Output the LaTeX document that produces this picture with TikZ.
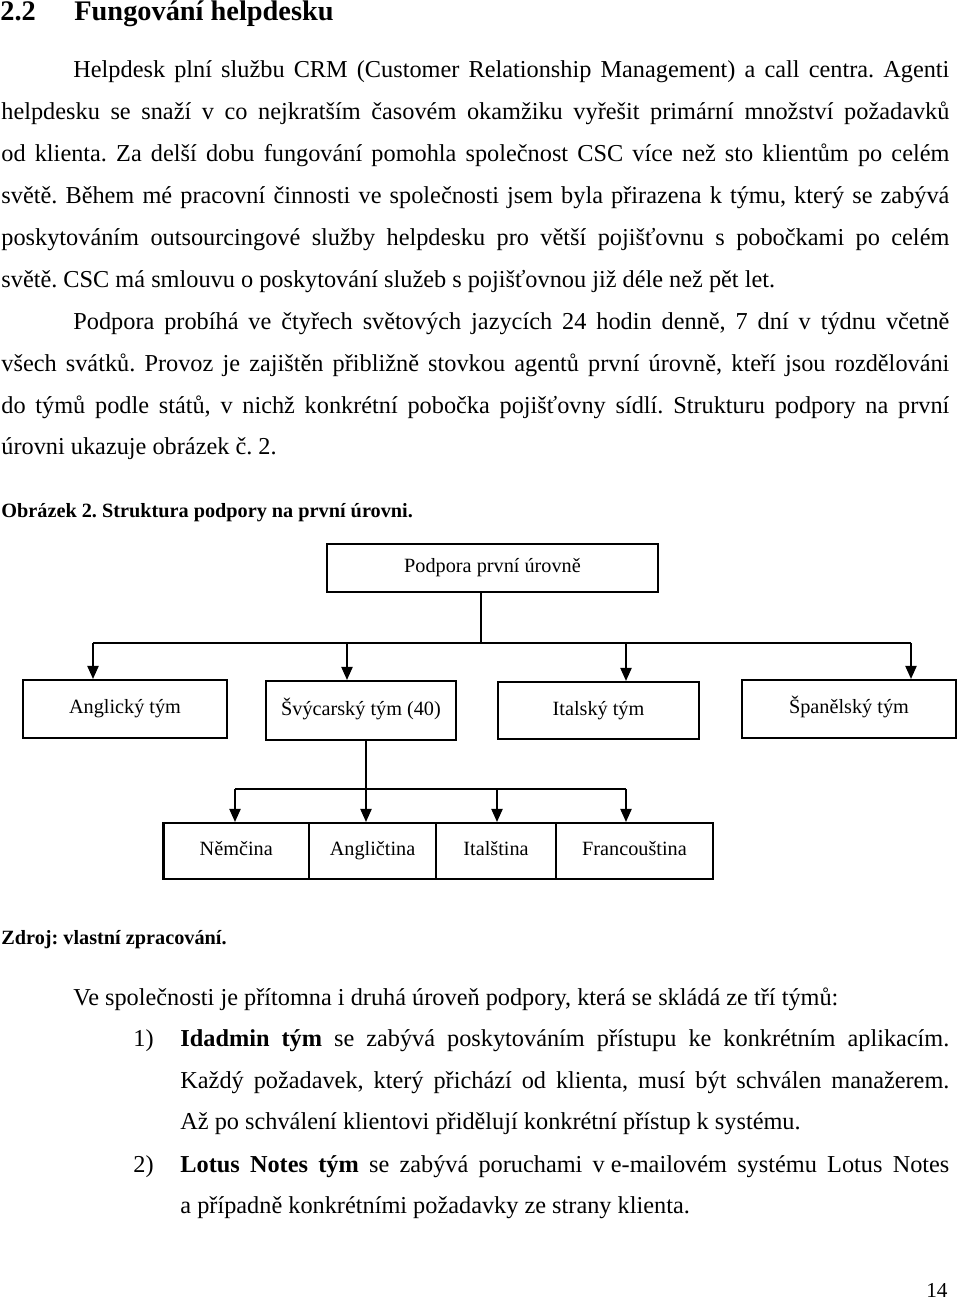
\documentclass[tikz,border=0pt]{standalone}
\usepackage{fontspec}
\setmainfont{Liberation Serif}
\usetikzlibrary{arrows.meta}
\frenchspacing
\newlength\pxu
\setlength\pxu{0.49383pt}
\newcommand\jl[2]{\hbox to #1\pxu{#2}}
\begin{document}
\begin{tikzpicture}[x=0.49383pt, y=-0.49383pt,
  body/.style={anchor=base west, inner sep=0pt, font=\fontsize{12}{14}\selectfont},
  head/.style={anchor=base west, inner sep=0pt, font=\fontsize{14}{16}\selectfont\bfseries},
  capt/.style={anchor=base west, inner sep=0pt, font=\fontsize{10}{12}\selectfont\bfseries},
  box/.style={draw, line width=1pt, inner sep=0pt, font=\fontsize{10}{12}\selectfont, text height=7pt, text depth=2.5pt},
  sz/.style 2 args={minimum width={#1*0.49383pt}, minimum height={#2*0.49383pt}},
  conn/.style={line width=1pt},
  arr/.style={conn, -{Triangle[length=6.5pt, width=5.5pt]}}]
\fill[white] (0,0) rectangle (960,1299);
\path[use as bounding box] (0,0) rectangle (960,1299);

% heading
\node[head] (h1) at (0,20) {2.2};
\node[head] (h2) at (74,20) {Fungování helpdesku};

% paragraph 1
\node[body] (p1) at (73,77) {\jl{876}{Helpdesk plní službu CRM (Customer Relationship Management) a call centra. Agenti}};
\node[body] (p2) at (1,119) {\jl{948}{helpdesku se snaží v co nejkratším časovém okamžiku vyřešit primární množství požadavků}};
\node[body] (p3) at (1,161) {\jl{948}{od klienta. Za delší dobu fungování pomohla společnost CSC více než sto klientům po celém}};
\node[body] (p4) at (1,203) {\jl{948}{světě. Během mé pracovní činnosti ve společnosti jsem byla přirazena k týmu, který se zabývá}};
\node[body] (p5) at (1,245) {\jl{948}{poskytováním outsourcingové služby helpdesku pro větší pojišťovnu s pobočkami po celém}};
\node[body] (p6) at (1,287) {světě. CSC má smlouvu o poskytování služeb s pojišťovnou již déle než pět let.};

% paragraph 2
\node[body] (p7) at (73,329) {\jl{876}{Podpora probíhá ve čtyřech světových jazycích 24 hodin denně, 7 dní v týdnu včetně}};
\node[body] (p8) at (1,371) {\jl{948}{všech svátků. Provoz je zajištěn přibližně stovkou agentů první úrovně, kteří jsou rozdělováni}};
\node[body] (p9) at (1,413) {\jl{948}{do týmů podle států, v nichž konkrétní pobočka pojišťovny sídlí. Strukturu podpory na první}};
\node[body] (p10) at (1,454) {úrovni ukazuje obrázek č. 2.};

% caption
\node[capt] (cap) at (1,517) {Obrázek 2. Struktura podpory na první úrovni.};

% diagram
\node[box, sz={331}{48}] (top) at (492.5,568) {Podpora první úrovně};
\node[box, sz={204}{58}] (ang) at (125,709) {Anglický tým};
\node[box, sz={190}{59}] (svy) at (361,710.5) {Švýcarský tým (40)};
\node[box, sz={201}{57}] (ita) at (598.5,710.5) {Italský tým};
\node[box, sz={214}{58}] (spa) at (849,709) {Španělský tým};

\node[box, sz={145.5}{56}] (nem) at (236.25,851) {Němčina};
\node[box, sz={127}{56}] (angl) at (372.5,851) {Angličtina};
\node[box, sz={120}{56}] (itl) at (496,851) {Italština};
\node[box, sz={157}{56}] (fra) at (634.5,851) {Francouština};

\coordinate (j1) at (481,643);
\coordinate (b1l) at (93,643);
\coordinate (b1a) at (347,643);
\coordinate (b1b) at (626,643);
\coordinate (b1r) at (911,643);
\draw[conn] (top.south -| j1) -- (j1);
\draw[conn] (b1l) -- (b1r);
\draw[arr] (b1l) -- (ang.north -| b1l);
\draw[arr] (b1a) -- (svy.north -| b1a);
\draw[arr] (b1b) -- (ita.north -| b1b);
\draw[arr] (b1r) -- (spa.north -| b1r);

\coordinate (j2) at (366,789);
\coordinate (b2l) at (235,789);
\coordinate (b2b) at (497,789);
\coordinate (b2r) at (626,789);
\draw[conn] (svy.south -| j2) -- (j2);
\draw[conn] (b2l) -- (b2r);
\draw[arr] (b2l) -- (nem.north -| b2l);
\draw[arr] (j2) -- (angl.north -| j2);
\draw[arr] (b2b) -- (itl.north -| b2b);
\draw[arr] (b2r) -- (fra.north -| b2r);

% source
\node[capt] (src) at (1,944) {Zdroj: vlastní zpracování.};

% second-level text
\node[body] (q0) at (73,1005) {Ve společnosti je přítomna i druhá úroveň podpory, která se skládá ze tří týmů:};
\node[body] (n1) at (133,1046) {1)};
\node[body] (q1) at (180,1046) {\jl{769}{\textbf{Idadmin tým} se zabývá poskytováním přístupu ke konkrétním aplikacím.}};
\node[body] (q2) at (180,1088) {\jl{769}{Každý požadavek, který přichází od klienta, musí být schválen manažerem.}};
\node[body] (q3) at (180,1129) {Až po schválení klientovi přidělují konkrétní přístup k systému.};
\node[body] (n2) at (133,1172) {2)};
\node[body] (q4) at (180,1172) {\jl{769}{\textbf{Lotus Notes tým} se zabývá poruchami v\hspace{0.25em}e-mailovém systému Lotus Notes}};
\node[body] (q5) at (180,1213) {a případně konkrétními požadavky ze strany klienta.};

\node[anchor=base east, inner sep=0pt, font=\fontsize{10.5}{12}\selectfont] (pg) at (948,1297) {14};
\end{tikzpicture}
\end{document}
